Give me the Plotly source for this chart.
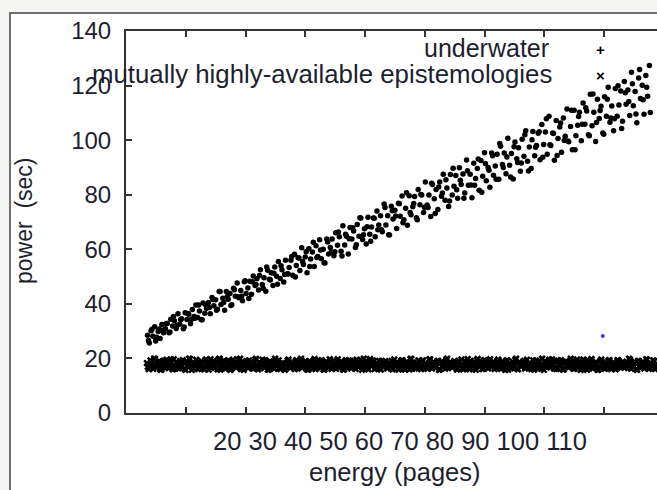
import plotly.graph_objects as go

# ---------------- data ----------------
underwater_x = [
    3.6, 3.9, 4.2, 4.5, 4.8, 5.1, 5.4, 5.7, 6.0, 6.3, 6.6, 6.9, 7.2, 7.5, 7.8, 8.1, 8.4, 8.7, 9.0, 9.3, 9.6, 9.9, 10.2,
    10.5, 10.8, 11.1, 11.4, 11.7, 12.0, 12.3, 12.6, 12.9, 13.2, 13.5, 13.8, 14.1, 14.4, 14.7, 15.0, 15.3, 15.6, 15.9, 16.2, 16.5, 16.8, 17.1,
    17.4, 17.7, 18.0, 18.3, 18.6, 18.9, 19.2, 19.5, 19.8, 20.1, 20.4, 20.7, 21.0, 21.3, 21.6, 21.9, 22.2, 22.5, 22.8, 23.1, 23.4, 23.7, 24.0,
    24.3, 24.6, 24.9, 25.2, 25.5, 25.8, 26.1, 26.4, 26.7, 27.0, 27.3, 27.6, 27.9, 28.2, 28.5, 28.8, 29.1, 29.4, 29.7, 30.0, 30.3, 30.6, 30.9,
    31.2, 31.5, 31.8, 32.1, 32.4, 32.7, 33.0, 33.3, 33.6, 33.9, 34.2, 34.5, 34.8, 35.1, 35.4, 35.7, 36.0, 36.3, 36.6, 36.9, 37.2, 37.5, 37.8,
    38.1, 38.4, 38.7, 39.0, 39.3, 39.6, 39.9, 40.2, 40.5, 40.8, 41.1, 41.4, 41.7, 42.0, 42.3, 42.6, 42.9, 43.2, 43.5, 43.8, 44.1, 44.4, 44.7,
    45.0, 45.3, 45.6, 45.9, 46.2, 46.5, 46.8, 47.1, 47.4, 47.7, 48.0, 48.3, 48.6, 48.9, 49.2, 49.5, 49.8, 50.1, 50.4, 50.7, 51.0, 51.3, 51.6,
    51.9, 52.2, 52.5, 52.8, 53.1, 53.4, 53.7, 54.0, 54.3, 54.6, 54.9, 55.2, 55.5, 55.8, 56.1, 56.4, 56.7, 57.0, 57.3, 57.6, 57.9, 58.2, 58.5,
    58.8, 59.1, 59.4, 59.7, 60.0, 60.3, 60.6, 60.9, 61.2, 61.5, 61.8, 62.1, 62.4, 62.7, 63.0, 63.3, 63.6, 63.9, 64.2, 64.5, 64.8, 65.1, 65.4,
    65.7, 66.0, 66.3, 66.6, 66.9, 67.2, 67.5, 67.8, 68.1, 68.4, 68.7, 69.0, 69.3, 69.6, 69.9, 70.2, 70.5, 70.8, 71.1, 71.4, 71.7, 72.0, 72.3,
    72.6, 72.9, 73.2, 73.5, 73.8, 74.1, 74.4, 74.7, 75.0, 75.3, 75.6, 75.9, 76.2, 76.5, 76.8, 77.1, 77.4, 77.7, 78.0, 78.3, 78.6, 78.9, 79.2,
    79.5, 79.8, 80.1, 80.4, 80.7, 81.0, 81.3, 81.6, 81.9, 82.2, 82.5, 82.8, 83.1, 83.4, 83.7, 84.0, 84.3, 84.6, 84.9, 85.2, 85.5, 85.8, 86.1,
    86.4, 86.7, 87.0, 87.3, 87.6,
    3.75, 4.35, 4.95, 5.55, 6.15, 6.75, 7.35, 7.95, 8.55, 9.15, 9.75, 10.35, 10.95,
    11.55, 12.15, 12.75, 13.35, 13.95, 14.55, 15.15, 15.75, 16.35, 16.95, 17.55, 18.15, 18.75,
    19.35, 19.95, 20.55, 21.15, 21.75, 22.35, 22.95, 23.55, 24.15, 24.75, 25.35, 25.95, 26.55,
    27.15, 27.75, 28.35, 28.95, 29.55, 30.15, 30.75, 31.35, 31.95, 32.55, 33.15, 33.75, 34.35,
    34.95, 35.55, 36.15, 36.75, 37.35, 37.95, 38.55, 39.15, 39.75, 40.35, 40.95, 41.55, 42.15,
    42.75, 43.35, 43.95, 44.55, 45.15, 45.75, 46.35, 46.95, 47.55, 48.15, 48.75, 49.35, 49.95,
    50.55, 51.15, 51.75, 52.35, 52.95, 53.55, 54.15, 54.75, 55.35, 55.95, 56.55, 57.15, 57.75,
    58.35, 58.95, 59.55, 60.15, 60.75, 61.35, 61.95, 62.55, 63.15, 63.75, 64.35, 64.95, 65.55,
    66.15, 66.75, 67.35, 67.95, 68.55, 69.15, 69.75, 70.35, 70.95, 71.55, 72.15, 72.75, 73.35,
    73.95, 74.55, 75.15, 75.75, 76.35, 76.95, 77.55, 78.15, 78.75, 79.35, 79.95, 80.55, 81.15,
    81.75, 82.35, 82.95, 83.55, 84.15, 84.75, 85.35, 85.95, 86.55, 87.15, 87.75,
]
underwater_y = [
    28.5, 25.7, 30.1, 28.1, 31.6, 27.8, 29.9, 27.3, 32.4, 29.4, 30.9, 32.8, 29.4, 34.4, 31.9, 33.8, 31.0, 36.4, 32.5, 34.5, 30.9, 36.7, 34.3,
    36.2, 32.7, 37.9, 35.4, 39.6, 35.0, 37.4, 34.2, 40.3, 36.6, 38.4, 40.5, 36.4, 42.3, 39.3, 41.5, 38.0, 44.5, 39.8, 42.1, 37.7, 44.5, 41.7,
    43.8, 39.7, 45.7, 42.8, 47.6, 42.2, 44.9, 41.1, 48.1, 43.8, 45.8, 48.3, 43.5, 50.2, 46.7, 49.2, 45.1, 52.5, 47.1, 49.6, 44.6, 52.3, 49.0,
    51.4, 46.7, 53.5, 50.1, 55.5, 49.3, 52.5, 48.0, 56.0, 51.0, 53.3, 56.0, 50.5, 58.2, 54.1, 56.9, 52.2, 60.6, 54.4, 57.2, 51.4, 60.2, 56.4,
    59.0, 53.7, 61.3, 57.4, 63.5, 56.5, 60.0, 55.0, 63.8, 58.3, 60.7, 63.8, 57.6, 66.1, 61.5, 64.6, 59.3, 68.6, 61.6, 64.8, 58.3, 68.0, 63.8,
    66.7, 60.7, 69.1, 64.8, 71.5, 63.6, 67.5, 61.9, 71.7, 65.5, 68.2, 71.5, 64.6, 74.0, 68.9, 72.3, 66.4, 76.6, 68.9, 72.3, 65.2, 75.8, 71.1,
    74.3, 67.6, 76.9, 72.1, 79.5, 70.8, 75.0, 68.8, 79.6, 72.7, 75.6, 79.3, 71.6, 81.9, 76.3, 79.9, 73.5, 84.7, 76.2, 79.9, 72.0, 83.7, 78.5,
    81.9, 74.6, 84.7, 79.4, 87.5, 78.0, 82.5, 75.7, 87.4, 79.9, 83.1, 87.0, 78.7, 89.9, 83.7, 87.6, 80.6, 92.7, 83.5, 87.5, 78.9, 91.5, 85.9,
    89.6, 81.6, 92.5, 86.8, 95.4, 85.1, 90.0, 82.7, 95.3, 87.1, 90.5, 94.8, 85.7, 97.8, 91.1, 95.3, 87.7, 100.7, 90.8, 95.1, 85.8, 99.3, 93.2,
    97.2, 88.6, 100.3, 94.1, 103.4, 92.3, 97.5, 89.6, 103.2, 94.3, 98.0, 102.5, 92.8, 105.7, 98.4, 103.0, 94.8, 108.8, 98.0, 102.6, 92.6, 107.2, 100.6,
    104.8, 95.6, 108.1, 101.4, 111.4, 99.4, 105.0, 96.5, 111.0, 101.6, 105.5, 110.2, 99.8, 113.6, 105.8, 110.7, 102.0, 116.8, 105.3, 110.2, 99.5, 115.0, 107.9,
    112.4, 102.6, 115.9, 108.8, 119.4, 106.6, 112.5, 103.4, 118.9, 108.8, 112.9, 118.0, 106.9, 121.5, 113.2, 118.4, 109.0, 124.9, 112.6, 117.8, 106.4, 122.8, 115.3,
    120.1, 109.5, 123.7, 116.1, 127.4,
    26.6, 30.7, 26.4, 30.8, 30.3, 32.8, 29.7, 35.4, 32.2, 34.2, 31.5, 36.5, 34.4,
    34.7, 39.6, 34.2, 39.5, 38.7, 41.6, 37.7, 44.5, 40.5, 42.7, 39.4, 45.2, 42.6,
    42.8, 48.5, 42.0, 48.1, 47.1, 50.4, 45.7, 53.5, 48.7, 51.2, 47.2, 54.0, 50.8,
    50.9, 57.4, 49.8, 56.8, 55.5, 59.1, 53.7, 62.6, 57.0, 59.7, 55.1, 62.7, 59.0,
    59.1, 66.3, 57.5, 65.5, 63.9, 67.9, 61.7, 71.6, 65.3, 68.3, 62.9, 71.4, 67.2,
    67.2, 75.3, 65.3, 74.1, 72.2, 76.7, 69.7, 80.7, 73.5, 76.8, 70.8, 80.1, 75.4,
    75.3, 84.2, 73.1, 82.8, 80.6, 85.5, 77.7, 89.7, 81.8, 85.3, 78.7, 88.8, 83.6,
    83.5, 93.1, 80.9, 91.4, 89.0, 94.3, 85.7, 98.8, 90.0, 93.8, 86.5, 97.6, 91.8,
    91.6, 102.0, 88.7, 100.1, 97.4, 103.1, 93.7, 107.8, 98.3, 102.4, 94.4, 106.3, 99.9,
    99.7, 111.0, 96.5, 108.7, 105.8, 111.9, 101.6, 116.9, 106.5, 110.9, 102.2, 115.0, 108.1,
    107.8, 119.9, 104.3, 117.4, 114.2, 120.7, 109.6, 125.9, 114.8, 119.4, 110.1,
]

epistemologies_x = [
    3.5, 3.8, 4.1, 4.4, 4.7, 5.0, 5.3, 5.6, 5.9, 6.2, 6.5, 6.8, 7.1, 7.4, 7.7, 8.0, 8.3, 8.6, 8.9,
    9.2, 9.5, 9.8, 10.1, 10.4, 10.7, 11.0, 11.3, 11.6, 11.9, 12.2, 12.5, 12.8, 13.1, 13.4, 13.7, 14.0, 14.3, 14.6,
    14.9, 15.2, 15.5, 15.8, 16.1, 16.4, 16.7, 17.0, 17.3, 17.6, 17.9, 18.2, 18.5, 18.8, 19.1, 19.4, 19.7, 20.0, 20.3,
    20.6, 20.9, 21.2, 21.5, 21.8, 22.1, 22.4, 22.7, 23.0, 23.3, 23.6, 23.9, 24.2, 24.5, 24.8, 25.1, 25.4, 25.7, 26.0,
    26.3, 26.6, 26.9, 27.2, 27.5, 27.8, 28.1, 28.4, 28.7, 29.0, 29.3, 29.6, 29.9, 30.2, 30.5, 30.8, 31.1, 31.4, 31.7,
    32.0, 32.3, 32.6, 32.9, 33.2, 33.5, 33.8, 34.1, 34.4, 34.7, 35.0, 35.3, 35.6, 35.9, 36.2, 36.5, 36.8, 37.1, 37.4,
    37.7, 38.0, 38.3, 38.6, 38.9, 39.2, 39.5, 39.8, 40.1, 40.4, 40.7, 41.0, 41.3, 41.6, 41.9, 42.2, 42.5, 42.8, 43.1,
    43.4, 43.7, 44.0, 44.3, 44.6, 44.9, 45.2, 45.5, 45.8, 46.1, 46.4, 46.7, 47.0, 47.3, 47.6, 47.9, 48.2, 48.5, 48.8,
    49.1, 49.4, 49.7, 50.0, 50.3, 50.6, 50.9, 51.2, 51.5, 51.8, 52.1, 52.4, 52.7, 53.0, 53.3, 53.6, 53.9, 54.2, 54.5,
    54.8, 55.1, 55.4, 55.7, 56.0, 56.3, 56.6, 56.9, 57.2, 57.5, 57.8, 58.1, 58.4, 58.7, 59.0, 59.3, 59.6, 59.9, 60.2,
    60.5, 60.8, 61.1, 61.4, 61.7, 62.0, 62.3, 62.6, 62.9, 63.2, 63.5, 63.8, 64.1, 64.4, 64.7, 65.0, 65.3, 65.6, 65.9,
    66.2, 66.5, 66.8, 67.1, 67.4, 67.7, 68.0, 68.3, 68.6, 68.9, 69.2, 69.5, 69.8, 70.1, 70.4, 70.7, 71.0, 71.3, 71.6,
    71.9, 72.2, 72.5, 72.8, 73.1, 73.4, 73.7, 74.0, 74.3, 74.6, 74.9, 75.2, 75.5, 75.8, 76.1, 76.4, 76.7, 77.0, 77.3,
    77.6, 77.9, 78.2, 78.5, 78.8, 79.1, 79.4, 79.7, 80.0, 80.3, 80.6, 80.9, 81.2, 81.5, 81.8, 82.1, 82.4, 82.7, 83.0,
    83.3, 83.6, 83.9, 84.2, 84.5, 84.8, 85.1, 85.4, 85.7, 86.0, 86.3, 86.6, 86.9, 87.2, 87.5, 87.8, 88.1, 88.4, 88.7,
    3.65, 3.95, 4.25, 4.55, 4.85, 5.15, 5.45, 5.75, 6.05, 6.35, 6.65, 6.95, 7.25, 7.55, 7.85, 8.15, 8.45, 8.75, 9.05,
    9.35, 9.65, 9.95, 10.25, 10.55, 10.85, 11.15, 11.45, 11.75, 12.05, 12.35, 12.65, 12.95, 13.25, 13.55, 13.85, 14.15, 14.45, 14.75,
    15.05, 15.35, 15.65, 15.95, 16.25, 16.55, 16.85, 17.15, 17.45, 17.75, 18.05, 18.35, 18.65, 18.95, 19.25, 19.55, 19.85, 20.15, 20.45,
    20.75, 21.05, 21.35, 21.65, 21.95, 22.25, 22.55, 22.85, 23.15, 23.45, 23.75, 24.05, 24.35, 24.65, 24.95, 25.25, 25.55, 25.85, 26.15,
    26.45, 26.75, 27.05, 27.35, 27.65, 27.95, 28.25, 28.55, 28.85, 29.15, 29.45, 29.75, 30.05, 30.35, 30.65, 30.95, 31.25, 31.55, 31.85,
    32.15, 32.45, 32.75, 33.05, 33.35, 33.65, 33.95, 34.25, 34.55, 34.85, 35.15, 35.45, 35.75, 36.05, 36.35, 36.65, 36.95, 37.25, 37.55,
    37.85, 38.15, 38.45, 38.75, 39.05, 39.35, 39.65, 39.95, 40.25, 40.55, 40.85, 41.15, 41.45, 41.75, 42.05, 42.35, 42.65, 42.95, 43.25,
    43.55, 43.85, 44.15, 44.45, 44.75, 45.05, 45.35, 45.65, 45.95, 46.25, 46.55, 46.85, 47.15, 47.45, 47.75, 48.05, 48.35, 48.65, 48.95,
    49.25, 49.55, 49.85, 50.15, 50.45, 50.75, 51.05, 51.35, 51.65, 51.95, 52.25, 52.55, 52.85, 53.15, 53.45, 53.75, 54.05, 54.35, 54.65,
    54.95, 55.25, 55.55, 55.85, 56.15, 56.45, 56.75, 57.05, 57.35, 57.65, 57.95, 58.25, 58.55, 58.85, 59.15, 59.45, 59.75, 60.05, 60.35,
    60.65, 60.95, 61.25, 61.55, 61.85, 62.15, 62.45, 62.75, 63.05, 63.35, 63.65, 63.95, 64.25, 64.55, 64.85, 65.15, 65.45, 65.75, 66.05,
    66.35, 66.65, 66.95, 67.25, 67.55, 67.85, 68.15, 68.45, 68.75, 69.05, 69.35, 69.65, 69.95, 70.25, 70.55, 70.85, 71.15, 71.45, 71.75,
    72.05, 72.35, 72.65, 72.95, 73.25, 73.55, 73.85, 74.15, 74.45, 74.75, 75.05, 75.35, 75.65, 75.95, 76.25, 76.55, 76.85, 77.15, 77.45,
    77.75, 78.05, 78.35, 78.65, 78.95, 79.25, 79.55, 79.85, 80.15, 80.45, 80.75, 81.05, 81.35, 81.65, 81.95, 82.25, 82.55, 82.85, 83.15,
    83.45, 83.75, 84.05, 84.35, 84.65, 84.95, 85.25, 85.55, 85.85, 86.15, 86.45, 86.75, 87.05, 87.35, 87.65, 87.95, 88.25, 88.55, 88.85,
]
epistemologies_y = [
    18.3, 16.1, 19.3, 17.3, 19.9, 16.7, 17.9, 18.9, 15.9, 18.7, 17.5, 19.5, 16.5, 18.5, 17.1, 19.7, 16.3, 18.1, 16.9,
    17.6, 19.4, 16.2, 18.8, 17.0, 19.8, 15.8, 18.2, 17.4, 19.1, 16.4, 18.6, 17.8, 16.0, 19.6, 17.2, 18.4, 16.6, 19.0,
    16.8, 18.0, 19.7, 15.9, 17.7, 19.2, 16.3, 18.9, 17.5, 16.1, 19.5, 17.9, 16.7, 18.3, 19.9, 17.1, 15.8, 18.6, 17.3,
    19.3, 17.0, 16.4, 18.5, 19.8, 16.0, 17.6, 18.2, 16.9, 19.4, 17.4, 15.9, 18.7, 17.8, 16.2, 19.1, 18.0, 16.6, 17.2,
    18.1, 15.8, 17.9, 19.6, 16.5, 18.4, 17.1, 19.0, 16.3, 17.7, 19.9, 16.8, 18.6, 17.3, 15.9, 18.9, 17.5, 19.2, 16.1,
    17.4, 19.2, 16.6, 18.0, 15.9, 18.8, 17.2, 19.7, 16.2, 18.4, 17.0, 19.0, 16.7, 18.6, 17.7, 16.0, 19.4, 17.5, 18.3,
    16.3, 18.7, 17.1, 19.5, 16.9, 18.1, 15.8, 19.9, 17.6, 16.5, 18.9, 17.3, 19.3, 16.1, 18.2, 17.8, 16.8, 19.1, 17.9,
    19.0, 16.4, 18.5, 17.2, 16.0, 19.6, 17.7, 18.3, 16.6, 19.2, 17.0, 15.9, 18.8, 17.4, 19.8, 16.2, 18.0, 17.6, 16.9,
    17.8, 16.1, 19.3, 18.2, 16.7, 17.5, 19.7, 16.3, 18.6, 17.1, 19.0, 15.8, 18.4, 16.9, 17.9, 19.5, 16.5, 18.1, 17.3,
    18.5, 17.0, 15.9, 19.1, 17.6, 16.4, 18.9, 17.2, 19.8, 16.0, 18.3, 17.7, 16.6, 19.4, 17.4, 18.0, 16.2, 19.2, 17.8,
    16.5, 19.0, 17.5, 18.7, 16.1, 17.9, 19.6, 16.8, 18.2, 17.1, 15.8, 19.3, 17.7, 16.4, 18.8, 17.3, 19.9, 16.0, 18.4,
    17.2, 18.6, 16.3, 19.5, 17.8, 16.9, 18.1, 15.9, 19.2, 17.4, 18.9, 16.2, 17.6, 19.0, 16.7, 18.3, 17.0, 19.7, 16.4,
    18.8, 16.6, 17.9, 19.4, 16.0, 18.5, 17.3, 16.8, 19.1, 17.7, 16.2, 18.0, 19.6, 17.1, 15.8, 18.7, 17.5, 16.5, 19.3,
    17.0, 19.8, 16.4, 18.2, 17.6, 15.9, 19.0, 17.9, 16.6, 18.6, 17.2, 19.4, 16.1, 18.4, 17.8, 16.9, 19.2, 17.4, 18.1,
    16.7, 18.3, 17.5, 19.9, 16.3, 17.9, 18.8, 16.0, 19.1, 17.3, 16.8, 18.5, 17.7, 19.5, 16.2, 18.0, 17.1, 19.0, 16.5,
    16.9, 17.6, 18.0, 16.2, 19.8, 17.4, 18.8, 15.9, 17.0, 19.2, 16.6, 18.3, 17.7, 19.6, 16.0, 17.2, 18.5, 16.4, 19.0,
    17.3, 18.6, 15.8, 17.1, 19.9, 18.3, 16.7, 17.9, 19.5, 16.1, 17.5, 18.9, 16.3, 19.2, 17.7, 15.9, 19.7, 18.0, 16.8,
    18.4, 16.0, 19.9, 17.3, 18.8, 16.4, 17.7, 19.3, 15.8, 17.1, 18.2, 16.8, 19.6, 17.9, 16.1, 18.7, 17.5, 19.0, 16.5,
    16.9, 18.1, 16.3, 19.7, 17.1, 18.5, 16.5, 19.5, 17.5, 18.7, 15.9, 18.9, 17.9, 16.7, 19.9, 17.3, 19.3, 16.1, 18.3,
    18.1, 17.4, 19.2, 16.9, 17.8, 18.4, 16.1, 19.4, 17.2, 18.6, 16.6, 17.9, 19.0, 15.9, 17.6, 18.2, 16.4, 19.8, 17.0,
    18.3, 17.5, 19.4, 16.0, 17.7, 18.6, 16.7, 19.0, 17.0, 18.4, 16.2, 19.7, 17.2, 18.8, 15.9, 18.0, 16.6, 19.2, 17.4,
    17.8, 19.2, 16.2, 18.0, 17.4, 19.4, 16.6, 17.7, 18.3, 16.0, 19.8, 17.2, 18.9, 16.4, 17.6, 19.1, 15.9, 17.0, 18.5,
    17.2, 16.6, 18.0, 19.1, 16.2, 17.8, 18.7, 15.9, 17.4, 19.4, 16.9, 18.2, 17.6, 16.0, 19.8, 18.5, 16.4, 17.0, 19.3,
    16.5, 19.0, 17.1, 18.0, 16.2, 19.5, 17.7, 18.5, 16.8, 17.3, 19.1, 16.0, 18.8, 17.9, 16.3, 19.9, 17.5, 18.3, 16.7,
    19.0, 16.6, 18.4, 17.2, 19.6, 16.0, 17.8, 18.6, 16.4, 19.1, 17.4, 18.2, 15.8, 19.8, 17.0, 18.8, 16.2, 19.4, 17.6,
    16.4, 19.7, 17.0, 18.3, 16.7, 19.0, 17.6, 16.2, 18.9, 17.4, 19.2, 15.9, 18.1, 16.9, 17.8, 19.5, 16.3, 18.6, 17.2,
    17.9, 19.1, 16.8, 17.8, 18.2, 16.1, 19.3, 17.3, 18.9, 16.5, 17.6, 19.9, 15.8, 18.1, 16.9, 19.5, 17.1, 18.7, 16.3,
    16.1, 19.2, 17.5, 18.9, 15.9, 17.3, 18.6, 16.8, 19.9, 17.7, 16.3, 19.0, 17.1, 18.4, 16.5, 19.6, 17.9, 15.8, 18.1,
    19.3, 16.5, 17.5, 18.7, 15.8, 17.1, 19.6, 18.0, 16.2, 17.7, 19.1, 16.8, 17.3, 18.5, 16.0, 19.4, 17.9, 16.6, 18.8,
    17.3, 18.1, 16.5, 19.5, 17.9, 16.9, 18.4, 15.8, 19.0, 17.1, 18.6, 16.3, 19.7, 17.5, 16.7, 18.2, 19.3, 16.1, 17.8,
]

stray_x = [79.8]
stray_y = [28.2]

series_names = ["underwater", "mutually highly-available epistemologies"]
y_tick_values = [0, 20, 40, 60, 80, 100, 120, 140]
x_tick_marks = [10, 20, 30, 40, 50, 60, 70, 80]
x_tick_labels = ["20", "30", "40", "50", "60", "70", "80", "90", "100", "110"]
x_title = "energy (pages)"
y_title = "power  (sec)"

# ---------------- figure ----------------
W, H = 657, 490
L, R, T, B = 126, 0, 31, 77
pw, ph = W - L - R, H - T - B
X_RANGE = [0, 88.87]


def px_x(p):
    return (p - L) / pw


def px_y(p):
    return (H - B - p) / ph


FONT = "Liberation Sans, Arial, sans-serif"
TXT = "#1e1e30"
AX = "#333333"

fig = go.Figure()
fig.add_trace(go.Scatter(
    x=underwater_x, y=underwater_y, mode="markers", name=series_names[0],
    marker=dict(symbol="circle", size=5.5, color="#000000"), showlegend=False,
))
fig.add_trace(go.Scatter(
    x=epistemologies_x, y=epistemologies_y, mode="markers", name=series_names[1],
    marker=dict(symbol="x", size=6.5, color="#000000"), showlegend=False,
))
fig.add_trace(go.Scatter(
    x=stray_x, y=stray_y, mode="markers", name="stray", xaxis="x2",
    marker=dict(symbol="circle", size=4, color="#3a3aff"), showlegend=False,
))

# window panel behind the chart
fig.add_shape(type="rect", xref="paper", yref="paper",
              x0=px_x(10), x1=px_x(W + 20), y0=px_y(H + 20), y1=px_y(13),
              line=dict(color="#6f6f6f", width=2), fillcolor="#ffffff", layer="below")

annotations = [
    dict(text=" ".join(x_tick_labels), x=px_x(400), y=px_y(441), xref="paper", yref="paper",
         xanchor="center", yanchor="middle", showarrow=False, font=dict(size=25.5, family=FONT, color=TXT)),
    dict(text=x_title, x=px_x(395), y=px_y(472), xref="paper", yref="paper",
         xanchor="center", yanchor="middle", showarrow=False, font=dict(size=25.5, family=FONT, color=TXT)),
    dict(text=y_title, x=px_x(24), y=px_y(221), xref="paper", yref="paper", textangle=-90,
         xanchor="center", yanchor="middle", showarrow=False, font=dict(size=23, family=FONT, color=TXT)),
    dict(text=series_names[0], x=px_x(551), y=px_y(48), xref="paper", yref="paper",
         xanchor="right", yanchor="middle", showarrow=False, font=dict(size=25, family=FONT, color=TXT)),
    dict(text=series_names[1], x=px_x(554), y=px_y(74), xref="paper", yref="paper",
         xanchor="right", yanchor="middle", showarrow=False, font=dict(size=25.8, family=FONT, color=TXT)),
    dict(text="<b>+</b>", x=px_x(600), y=px_y(49), xref="paper", yref="paper",
         xanchor="center", yanchor="middle", showarrow=False, font=dict(size=15, family=FONT, color="#000000")),
    dict(text="<b>×</b>", x=px_x(600), y=px_y(75), xref="paper", yref="paper",
         xanchor="center", yanchor="middle", showarrow=False, font=dict(size=15, family=FONT, color="#000000")),
]

fig.update_layout(
    width=W, height=H, autosize=False,
    margin=dict(l=L, r=R, t=T, b=B, pad=0),
    paper_bgcolor="#f5f5f3", plot_bgcolor="#ffffff",
    annotations=annotations,
    font=dict(family=FONT, size=24, color=TXT),
    xaxis=dict(
        range=X_RANGE, tickmode="array", tickvals=x_tick_marks, showticklabels=False,
        ticks="inside", ticklen=6, tickwidth=1.5, tickcolor=AX,
        showline=True, linecolor=AX, linewidth=2, mirror="ticks",
        showgrid=False, zeroline=False,
    ),
    xaxis2=dict(
        range=X_RANGE, overlaying="x", side="top", anchor="y", matches="x",
        tickmode="array", tickvals=x_tick_marks, showticklabels=False,
        ticks="inside", ticklen=6, tickwidth=1.5, tickcolor=AX,
        showline=True, linecolor=AX, linewidth=2,
        showgrid=False, zeroline=False,
    ),
    yaxis=dict(
        range=[0, 140], tickmode="array", tickvals=y_tick_values,
        ticks="inside", ticklen=6, tickwidth=1.5, tickcolor=AX,
        showline=True, linecolor=AX, linewidth=2, mirror=False,
        showgrid=False, zeroline=False, ticklabelstandoff=8,
        tickfont=dict(size=24, family=FONT, color=TXT),
    ),
)

fig.write_html("out.html")
